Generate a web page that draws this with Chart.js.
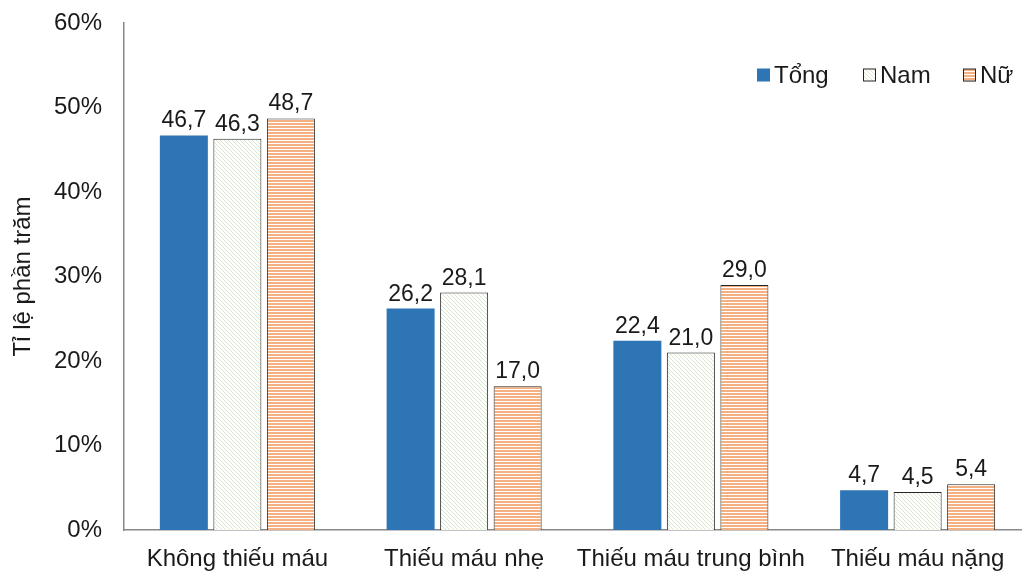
<!DOCTYPE html>
<html lang="vi">
<head>
    <meta charset="UTF-8">
    <title>Tỉ lệ thiếu máu</title>
    <script src="https://cdn.jsdelivr.net/npm/chart.js@4.4.1/dist/chart.umd.min.js"></script>
    <style>
        body {
            margin: 0;
            background: #ffffff;
            overflow: hidden;
        }
        .chart-box {
            width: 1031px;
            height: 571px;
        }
    </style>
</head>
<body>
    <div class="chart-box">
        <canvas id="anemiaChart"></canvas>
    </div>

    <script>
        // Data
        const categories = ['Không thiếu máu', 'Thiếu máu nhẹ', 'Thiếu máu trung bình', 'Thiếu máu nặng'];
        const seriesNames = ['Tổng', 'Nam', 'Nữ'];
        const tongValues = [46.7, 26.2, 22.4, 4.7];
        const namValues = [46.3, 28.1, 21.0, 4.5];
        const nuValues = [48.7, 17.0, 29.0, 5.4];
        const yTicks = [0, 10, 20, 30, 40, 50, 60];

        const FONT = 'Liberation Sans, Arial, sans-serif';
        const TEXT = '#1a1a1a';

        // Hatch patterns for Nam and Nữ
        function diagonalPattern() {
            const c = document.createElement('canvas');
            c.width = 4;
            c.height = 4;
            const ctx = c.getContext('2d');
            ctx.fillStyle = '#ffffff';
            ctx.fillRect(0, 0, 4, 4);
            ctx.fillStyle = '#d9e8cc';
            for (let i = 0; i < 4; i++) {
                ctx.fillRect(i, i, 1, 1);
            }
            return ctx.createPattern(c, 'repeat');
        }

        function stripePattern() {
            const c = document.createElement('canvas');
            c.width = 4;
            c.height = 3;
            const ctx = c.getContext('2d');
            ctx.fillStyle = '#ffffff';
            ctx.fillRect(0, 0, 4, 3);
            ctx.fillStyle = '#f4b080';
            ctx.fillRect(0, 0, 4, 2);
            return ctx.createPattern(c, 'repeat');
        }

        const namFill = diagonalPattern();
        const nuFill = stripePattern();

        // Value labels above each bar, with a decimal comma
        const valueLabels = {
            id: 'valueLabels',
            afterDatasetsDraw(chart) {
                const ctx = chart.ctx;
                ctx.save();
                ctx.font = '23px ' + FONT;
                ctx.fillStyle = TEXT;
                ctx.textAlign = 'center';
                ctx.textBaseline = 'alphabetic';
                chart.data.datasets.forEach((ds, i) => {
                    chart.getDatasetMeta(i).data.forEach((bar, j) => {
                        const txt = ds.data[j].toFixed(1).replace('.', ',');
                        ctx.fillText(txt, bar.x, bar.y - 8);
                    });
                });
                ctx.restore();
            }
        };

        // Legend drawn inside the plot, top right
        const innerLegend = {
            id: 'innerLegend',
            afterDraw(chart) {
                const ctx = chart.ctx;
                const boxX = [757, 863, 963];
                const y = 75;
                ctx.save();
                ctx.font = '24px ' + FONT;
                ctx.textBaseline = 'middle';
                chart.data.datasets.forEach((ds, i) => {
                    const x = boxX[i];
                    ctx.fillStyle = ds.backgroundColor;
                    ctx.fillRect(x, y - 6.5, 13, 13);
                    if (ds.borderWidth) {
                        ctx.strokeStyle = ds.borderColor;
                        ctx.lineWidth = 1;
                        ctx.strokeRect(x + 0.5, y - 6, 12, 12);
                    }
                    ctx.fillStyle = TEXT;
                    ctx.fillText(ds.label, x + 17, y + 1);
                });
                ctx.restore();
            }
        };

        new Chart(document.getElementById('anemiaChart'), {
            type: 'bar',
            data: {
                labels: categories,
                datasets: [
                    {
                        label: seriesNames[0],
                        data: tongValues,
                        backgroundColor: '#2e75b6',
                        borderWidth: 0
                    },
                    {
                        label: seriesNames[1],
                        data: namValues,
                        backgroundColor: namFill,
                        borderColor: '#262626',
                        borderWidth: 1
                    },
                    {
                        label: seriesNames[2],
                        data: nuValues,
                        backgroundColor: nuFill,
                        borderColor: '#262626',
                        borderWidth: 1
                    }
                ]
            },
            options: {
                responsive: true,
                maintainAspectRatio: false,
                animation: false,
                categoryPercentage: 0.708,
                barPercentage: 0.897,
                layout: {
                    padding: { top: 23, left: 0, right: 0, bottom: 0 }
                },
                plugins: {
                    legend: { display: false },
                    tooltip: { enabled: false }
                },
                scales: {
                    x: {
                        grid: { display: false, drawTicks: false },
                        border: { display: true, color: '#888888', width: 1.5 },
                        ticks: {
                            color: TEXT,
                            padding: 15,
                            maxRotation: 0,
                            autoSkip: false,
                            font: { family: FONT, size: 24 }
                        },
                        afterFit(scale) {
                            scale.height = 41;
                        }
                    },
                    y: {
                        min: 0,
                        max: 60,
                        afterBuildTicks(scale) {
                            scale.ticks = yTicks.map(v => ({ value: v }));
                        },
                        grid: { display: false, drawTicks: false },
                        border: { display: true, color: '#888888', width: 1.5 },
                        ticks: {
                            color: TEXT,
                            padding: 22,
                            font: { family: FONT, size: 24 },
                            callback: v => v + '%'
                        },
                        title: {
                            display: true,
                            text: 'Tỉ lệ phần trăm',
                            color: TEXT,
                            padding: { top: 9, bottom: 0 },
                            font: { family: FONT, size: 24 }
                        },
                        afterFit(scale) {
                            scale.width = 124;
                            // tick padding otherwise pushes the plot top down
                            scale.paddingTop = 0;
                            scale.paddingBottom = 0;
                        }
                    }
                }
            },
            plugins: [valueLabels, innerLegend]
        });
    </script>
</body>
</html>
